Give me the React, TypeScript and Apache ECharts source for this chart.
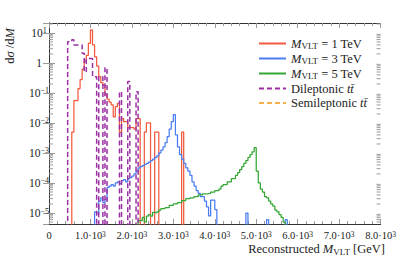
import React, { useEffect, useRef } from 'react';
import * as echarts from 'echarts';

const SERIF = '"Liberation Serif", "DejaVu Serif", serif';

const X_MIN = 0;
const X_MAX = 8000;
const X_INTERVAL = 1000;
const Y_MIN = 4.3e-6;
const Y_MAX = 21.5;
const FLOOR = 1e-9;

const seriesNames = ['M1', 'M3', 'M5', 'Dilep', 'Semilep'];

// M_VLT = 1 TeV (bin left edges in GeV, dσ/dM)
const redEdges = [550, 600, 700, 750, 800, 850, 900, 950, 1000, 1050, 1100, 1150, 1200, 1250, 1300, 1350, 1400, 1450, 1500, 1550, 1600, 1650, 1700, 1750, 1800, 1900, 2050, 2100, 2200, 2300, 2350, 2450, 2550, 2650, 3200];
const redValues = [5.0e-3, 5.6e-2, 0.14, 0.28, 0.63, 1.1, 1.8, 4.5, 12.6, 4.0, 1.6, 0.79, 0.35, 0.22, 0.18, 0.089, 0.063, 0.05, 0.04, 0.016, 0.035, 0.045, 0.005, 0.014, 0.011, 0.007, 0.0063, 0.014, 0, 0.005, 0.01, 0, 0.005, 0, 0.005];
const redEnd = 3250;

// M_VLT = 3 TeV
const blueEdges = [1100, 1150, 1200, 1250, 1300, 1350, 1400, 1450, 1500, 1550, 1600, 1650, 1700, 1750, 1800, 1850, 1900, 1950, 2000, 2050, 2100, 2150, 2200, 2250, 2300, 2350, 2400, 2450, 2500, 2550, 2600, 2650, 2700, 2750, 2800, 2850, 2900, 2950, 3000, 3050, 3100, 3150, 3200, 3250, 3300, 3350, 3400, 3450, 3500, 3550, 3600, 3650, 3700, 3750, 3800, 3850, 3900, 3950, 4000, 4050, 4750, 4800, 5250, 5300, 5700];
const blueValues = [1.1e-5, 1.0e-5, 2.5e-5, 3.2e-5, 2.2e-5, 2.8e-5, 7.1e-5, 7.9e-5, 8.9e-5, 7.9e-5, 1.0e-4, 1.1e-4, 9.5e-5, 1.2e-4, 1.3e-4, 1.1e-4, 1.4e-4, 1.5e-4, 1.7e-4, 2.0e-4, 2.5e-4, 3.2e-4, 3.5e-4, 3.8e-4, 4.2e-4, 4.5e-4, 5.0e-4, 5.6e-4, 6.3e-4, 7.1e-4, 8.0e-4, 1.0e-3, 1.25e-3, 1.6e-3, 2.2e-3, 3.5e-3, 6.3e-3, 1.1e-2, 1.9e-2, 4.0e-3, 1.6e-3, 8.9e-4, 6.3e-4, 4.5e-4, 3.2e-4, 2.5e-4, 1.8e-4, 1.1e-4, 7.9e-5, 5.6e-5, 4.5e-5, 3.5e-5, 3.5e-5, 2.5e-5, 1.6e-5, 8.0e-6, 2.7e-5, 2.7e-5, 1.3e-5, 0, 1.0e-5, 0, 6.0e-6, 0, 6.0e-6];
const blueEnd = 5750;

// M_VLT = 5 TeV
const greenEdges = [2150, 2200, 2250, 2300, 2350, 2400, 2450, 2500, 2550, 2600, 2650, 2700, 2800, 2900, 3000, 3100, 3200, 3300, 3400, 3500, 3600, 3700, 3800, 3900, 4000, 4100, 4150, 4200, 4300, 4400, 4500, 4550, 4600, 4650, 4700, 4750, 4800, 4850, 4900, 4950, 5000, 5050, 5100, 5150, 5200, 5250, 5300, 5350, 5400, 5450, 5500, 5550, 5600, 5650];
const greenValues = [5.6e-6, 5.6e-6, 7.1e-6, 5.0e-6, 7.9e-6, 8.9e-6, 7.9e-6, 1.05e-5, 1.0e-5, 1.1e-5, 1.25e-5, 1.4e-5, 1.5e-5, 1.8e-5, 2.0e-5, 2.2e-5, 2.6e-5, 3.0e-5, 3.2e-5, 3.5e-5, 4.0e-5, 4.3e-5, 4.5e-5, 5.0e-5, 5.6e-5, 6.3e-5, 7.9e-5, 8.9e-5, 1.1e-4, 1.4e-4, 1.8e-4, 2.2e-4, 2.8e-4, 3.5e-4, 4.5e-4, 5.6e-4, 7.1e-4, 8.9e-4, 1.1e-3, 1.5e-3, 2.5e-4, 1.0e-4, 6.3e-5, 5.0e-5, 3.5e-5, 3.2e-5, 2.5e-5, 2.0e-5, 1.7e-5, 1.25e-5, 1.1e-5, 8.9e-6, 7.1e-6, 5.0e-6];
const greenEnd = 5700;

// Dileptonic tt̄
const dilepEdges = [450, 550, 600, 800, 850, 900, 1050, 1150, 1200, 1300, 1350, 1400, 1700, 1750, 1900, 1950, 2100];
const dilepValues = [5.1, 5.9, 4.0, 2.1, 0.5, 1.4, 0.35, 0, 0.35, 0, 0.7, 0, 0.11, 0, 0.24, 0, 0.11];
const dilepEnd = 2150;

// Semileptonic tt̄ (nothing above the axis floor)
const semilepEdges: number[] = [];
const semilepValues: number[] = [];

const yDecades = [-6, -5, -4, -3, -2, -1, 0, 1];
const yMinorMultipliers = [2, 3, 4, 5, 6, 7, 8, 9];

function steps(edges: number[], values: number[], end: number) {
  if (!edges.length) return [];
  const d: number[][] = [[edges[0], FLOOR]];
  edges.forEach((e, i) => d.push([e, values[i] > 0 ? values[i] : FLOOR]));
  d.push([end, FLOOR]);
  return d;
}

const legendText: Record<string, string> = {
  M1: '{i|M}{sub|VLT}{t| = 1 TeV}',
  M3: '{i|M}{sub|VLT}{t| = 3 TeV}',
  M5: '{i|M}{sub|VLT}{t| = 5 TeV}',
  Dilep: '{t|Dileptonic }{i|tt\u0304}',
  Semilep: '{t|Semileptonic }{i|tt\u0304}',
};

export default function App() {
  const ref = useRef<HTMLDivElement>(null);
  useEffect(() => {
    document.body.style.margin = '0';
    if (!ref.current) return;
    const chart = echarts.init(ref.current, undefined, { renderer: 'svg' });

    const minorTicks: number[][] = [];
    yDecades.forEach((k) => yMinorMultipliers.forEach((m) => minorTicks.push([X_MIN, m * Math.pow(10, k)])));

    const tickColor = '#9a9a9a';
    const axisColor = '#333';
    const xRich = {
      b: { fontFamily: SERIF, fontSize: 10.5, color: '#222', lineHeight: 11, verticalAlign: 'bottom' },
      s: { fontFamily: SERIF, fontSize: 7.5, color: '#222', lineHeight: 7, verticalAlign: 'top' },
    };
    const yRich = {
      b: { fontFamily: SERIF, fontSize: 11.5, color: '#222', lineHeight: 12, verticalAlign: 'bottom' },
      s: { fontFamily: SERIF, fontSize: 8, color: '#222', lineHeight: 8, verticalAlign: 'top' },
    };
    const line = (color: string, dashed = false) => ({
      type: 'line',
      step: 'end',
      symbol: 'none',
      clip: true,
      lineStyle: { color, width: dashed ? 1.5 : 1.25, type: dashed ? [5, 3] : 'solid' },
      itemStyle: { color },
    });

    const option: any = {
      animation: false,
      grid: { left: 49, right: 14, top: 23, bottom: 35 },
      legend: {
        data: seriesNames,
        orient: 'vertical',
        left: 258,
        top: 37,
        padding: 0,
        itemWidth: 27,
        itemHeight: 10,
        itemGap: 1.5,
        itemStyle: { opacity: 0 },
        formatter: (name: string) => legendText[name],
        textStyle: {
          fontFamily: SERIF,
          fontSize: 12.5,
          color: '#222',
          rich: {
            t: { fontFamily: SERIF, fontSize: 12.5, color: '#222', lineHeight: 14 },
            i: { fontFamily: SERIF, fontSize: 12.5, fontStyle: 'italic', color: '#222', lineHeight: 14 },
            sub: { fontFamily: SERIF, fontSize: 9, color: '#222', lineHeight: 9, verticalAlign: 'bottom' },
          },
        },
      },
      xAxis: [
        {
          type: 'value', min: X_MIN, max: X_MAX, interval: X_INTERVAL,
          axisLine: { show: true, lineStyle: { color: axisColor } },
          axisTick: { show: true, inside: true, length: 5, lineStyle: { color: tickColor } },
          minorTick: { show: true, splitNumber: 5, length: 3, lineStyle: { color: tickColor } },
          splitLine: { show: false },
          axisLabel: {
            margin: 6,
            showMaxLabel: true,
            formatter: (v: number) => (v === 0 ? '{b|0}' : `{b|${(v / 1000).toFixed(1)}·10}{s|3}`),
            rich: xRich,
          },
        },
        {
          type: 'value', position: 'top', min: X_MIN, max: X_MAX, interval: X_INTERVAL,
          axisLine: { show: true, lineStyle: { color: axisColor } },
          axisTick: { show: true, inside: true, length: 5, lineStyle: { color: tickColor } },
          minorTick: { show: true, splitNumber: 5, length: 3, lineStyle: { color: tickColor } },
          splitLine: { show: false },
          axisLabel: { show: false },
        },
      ],
      yAxis: [
        {
          type: 'log', logBase: 10, min: Y_MIN, max: Y_MAX,
          axisLine: { show: true, lineStyle: { color: axisColor } },
          axisTick: { show: true, inside: true, length: 6, lineStyle: { color: tickColor } },
          splitLine: { show: false },
          axisLabel: {
            margin: 10,
            align: 'center',
            showMinLabel: false,
            showMaxLabel: false,
            formatter: (v: number) => {
              const l = Math.log10(v);
              const k = Math.round(l);
              if (Math.abs(l - k) > 1e-6) return '';
              if (k === 0) return '{b|1}';
              return `{b|10}{s|${k < 0 ? '\u2212' + -k : k}}`;
            },
            rich: yRich,
          },
        },
        {
          type: 'log', logBase: 10, min: Y_MIN, max: Y_MAX, position: 'right',
          axisLine: { show: true, lineStyle: { color: axisColor } },
          axisTick: { show: true, inside: true, length: 6, lineStyle: { color: tickColor } },
          splitLine: { show: false },
          axisLabel: { show: false },
        },
      ],
      series: [
        { name: 'M1', ...line('#f25a3e'), data: steps(redEdges, redValues, redEnd) },
        { name: 'M3', ...line('#4a7cf2'), data: steps(blueEdges, blueValues, blueEnd) },
        { name: 'M5', ...line('#35a633'), data: steps(greenEdges, greenValues, greenEnd) },
        { name: 'Dilep', ...line('#9b2fa3', true), data: steps(dilepEdges, dilepValues, dilepEnd) },
        { name: 'Semilep', ...line('#f5b04c', true), data: steps(semilepEdges, semilepValues, 0) },
        {
          name: 'minor',
          type: 'custom',
          silent: true,
          data: minorTicks,
          renderItem: (params: any, api: any) => {
            const y = api.coord([X_MIN, api.value(1)])[1];
            const cs = params.coordSys;
            if (y < cs.y || y > cs.y + cs.height) return null;
            const st = { stroke: tickColor, lineWidth: 1 };
            return {
              type: 'group',
              children: [
                { type: 'line', shape: { x1: cs.x, y1: y, x2: cs.x + 4, y2: y }, style: st },
                { type: 'line', shape: { x1: cs.x + cs.width - 4, y1: y, x2: cs.x + cs.width, y2: y }, style: st },
              ],
            };
          },
        },
      ],
      graphic: [
        {
          type: 'text',
          x: 10,
          y: 46,
          rotation: Math.PI / 2,
          style: {
            text: '{r|d}{i|σ}{r| /d}{i|M}',
            align: 'center',
            verticalAlign: 'middle',
            rich: {
              r: { fontFamily: SERIF, fontSize: 12.5, fill: '#222' },
              i: { fontFamily: SERIF, fontSize: 12.5, fontStyle: 'italic', fill: '#222' },
            },
          },
        },
        {
          type: 'text',
          x: 385,
          y: 249,
          style: {
            text: '{r|Reconstructed }{i|M}{sub|VLT}{r| [GeV]}',
            align: 'right',
            verticalAlign: 'middle',
            rich: {
              r: { fontFamily: SERIF, fontSize: 12.5, fill: '#222', lineHeight: 14 },
              i: { fontFamily: SERIF, fontSize: 12.5, fontStyle: 'italic', fill: '#222', lineHeight: 14 },
              sub: { fontFamily: SERIF, fontSize: 9, fill: '#222', lineHeight: 9, verticalAlign: 'bottom' },
            },
          },
        },
      ],
    };
    chart.setOption(option);
    return () => chart.dispose();
  }, []);
  return <div ref={ref} style={{ width: 399, height: 259 }} />;
}
